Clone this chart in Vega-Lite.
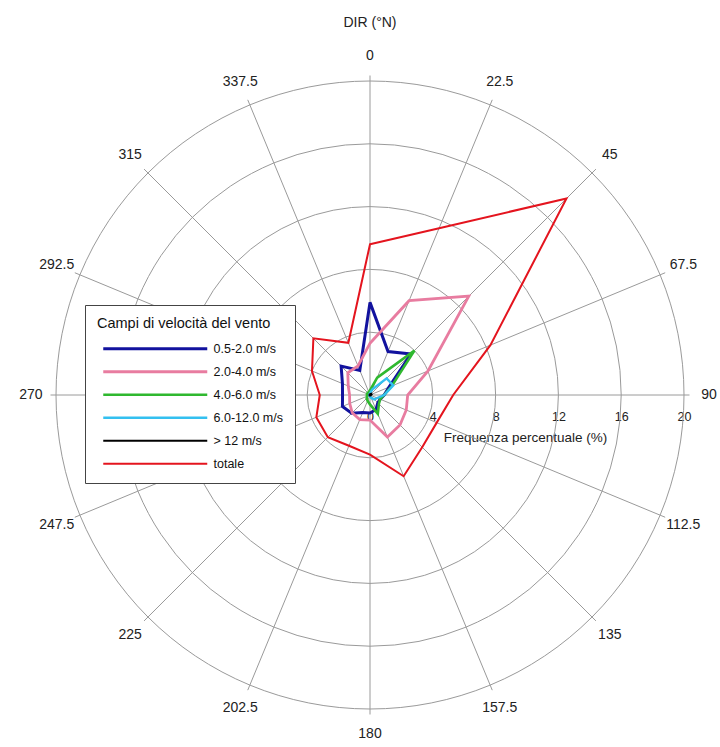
{
  "$schema": "https://vega.github.io/schema/vega-lite/v6.json",
  "width": 628,
  "height": 628,
  "autosize": {"type": "none"},
  "padding": {"left": 56, "top": 81, "right": 36, "bottom": 38},
  "background": "white",
  "config": {"view": {"stroke": null}, "font": "Liberation Sans"},
  "title": {"text": "DIR (°N)", "frame": "group", "anchor": "middle", "offset": 19, "fontSize": 14, "fontWeight": "normal", "color": "#222", "font": "Liberation Sans"},
  "datasets": {
    "rings": [{"r": 4}, {"r": 8}, {"r": 12}, {"r": 16}, {"r": 20}],
    "spokes": [
      {"d": 0, "lab": "0"}, {"d": 22.5, "lab": "22.5"}, {"d": 45, "lab": "45"}, {"d": 67.5, "lab": "67.5"},
      {"d": 90, "lab": "90"}, {"d": 112.5, "lab": "112.5"}, {"d": 135, "lab": "135"}, {"d": 157.5, "lab": "157.5"},
      {"d": 180, "lab": "180"}, {"d": 202.5, "lab": "202.5"}, {"d": 225, "lab": "225"}, {"d": 247.5, "lab": "247.5"},
      {"d": 270, "lab": "270"}, {"d": 292.5, "lab": "292.5"}, {"d": 315, "lab": "315"}, {"d": 337.5, "lab": "337.5"}
    ],
    "wind": [
      {"d": 0, "c": "0.5-2.0 m/s", "f": 5.9}, {"d": 22.5, "c": "0.5-2.0 m/s", "f": 3.0}, {"d": 45, "c": "0.5-2.0 m/s", "f": 3.7}, {"d": 67.5, "c": "0.5-2.0 m/s", "f": 1.3},
      {"d": 90, "c": "0.5-2.0 m/s", "f": 0.9}, {"d": 112.5, "c": "0.5-2.0 m/s", "f": 0.7}, {"d": 135, "c": "0.5-2.0 m/s", "f": 0.7}, {"d": 157.5, "c": "0.5-2.0 m/s", "f": 1.0},
      {"d": 180, "c": "0.5-2.0 m/s", "f": 1.15}, {"d": 202.5, "c": "0.5-2.0 m/s", "f": 1.2}, {"d": 225, "c": "0.5-2.0 m/s", "f": 1.65}, {"d": 247.5, "c": "0.5-2.0 m/s", "f": 1.9},
      {"d": 270, "c": "0.5-2.0 m/s", "f": 1.75}, {"d": 292.5, "c": "0.5-2.0 m/s", "f": 1.9}, {"d": 315, "c": "0.5-2.0 m/s", "f": 2.6}, {"d": 337.5, "c": "0.5-2.0 m/s", "f": 1.7},

      {"d": 0, "c": "2.0-4.0 m/s", "f": 3.3}, {"d": 22.5, "c": "2.0-4.0 m/s", "f": 6.5}, {"d": 45, "c": "2.0-4.0 m/s", "f": 8.9}, {"d": 67.5, "c": "2.0-4.0 m/s", "f": 4.0},
      {"d": 90, "c": "2.0-4.0 m/s", "f": 2.4}, {"d": 112.5, "c": "2.0-4.0 m/s", "f": 2.5}, {"d": 135, "c": "2.0-4.0 m/s", "f": 2.7}, {"d": 157.5, "c": "2.0-4.0 m/s", "f": 2.9},
      {"d": 180, "c": "2.0-4.0 m/s", "f": 1.6}, {"d": 202.5, "c": "2.0-4.0 m/s", "f": 1.7}, {"d": 225, "c": "2.0-4.0 m/s", "f": 1.6}, {"d": 247.5, "c": "2.0-4.0 m/s", "f": 1.4},
      {"d": 270, "c": "2.0-4.0 m/s", "f": 1.3}, {"d": 292.5, "c": "2.0-4.0 m/s", "f": 1.5}, {"d": 315, "c": "2.0-4.0 m/s", "f": 2.0}, {"d": 337.5, "c": "2.0-4.0 m/s", "f": 2.0},

      {"d": 0, "c": "4.0-6.0 m/s", "f": 0.3}, {"d": 22.5, "c": "4.0-6.0 m/s", "f": 1.2}, {"d": 45, "c": "4.0-6.0 m/s", "f": 4.0}, {"d": 67.5, "c": "4.0-6.0 m/s", "f": 1.5},
      {"d": 90, "c": "4.0-6.0 m/s", "f": 0.9}, {"d": 112.5, "c": "4.0-6.0 m/s", "f": 0.7}, {"d": 135, "c": "4.0-6.0 m/s", "f": 0.8}, {"d": 157.5, "c": "4.0-6.0 m/s", "f": 1.3},
      {"d": 180, "c": "4.0-6.0 m/s", "f": 0.6}, {"d": 202.5, "c": "4.0-6.0 m/s", "f": 0.4}, {"d": 225, "c": "4.0-6.0 m/s", "f": 0.3}, {"d": 247.5, "c": "4.0-6.0 m/s", "f": 0.2},
      {"d": 270, "c": "4.0-6.0 m/s", "f": 0.2}, {"d": 292.5, "c": "4.0-6.0 m/s", "f": 0.2}, {"d": 315, "c": "4.0-6.0 m/s", "f": 0.2}, {"d": 337.5, "c": "4.0-6.0 m/s", "f": 0.2},

      {"d": 0, "c": "6.0-12.0 m/s", "f": 0.1}, {"d": 22.5, "c": "6.0-12.0 m/s", "f": 0.4}, {"d": 45, "c": "6.0-12.0 m/s", "f": 1.5}, {"d": 67.5, "c": "6.0-12.0 m/s", "f": 1.6},
      {"d": 90, "c": "6.0-12.0 m/s", "f": 0.9}, {"d": 112.5, "c": "6.0-12.0 m/s", "f": 0.5}, {"d": 135, "c": "6.0-12.0 m/s", "f": 0.4}, {"d": 157.5, "c": "6.0-12.0 m/s", "f": 0.2},
      {"d": 180, "c": "6.0-12.0 m/s", "f": 0.1}, {"d": 202.5, "c": "6.0-12.0 m/s", "f": 0.05}, {"d": 225, "c": "6.0-12.0 m/s", "f": 0.05}, {"d": 247.5, "c": "6.0-12.0 m/s", "f": 0.05},
      {"d": 270, "c": "6.0-12.0 m/s", "f": 0.05}, {"d": 292.5, "c": "6.0-12.0 m/s", "f": 0.05}, {"d": 315, "c": "6.0-12.0 m/s", "f": 0.05}, {"d": 337.5, "c": "6.0-12.0 m/s", "f": 0.05},

      {"d": 0, "c": "> 12 m/s", "f": 0.03}, {"d": 22.5, "c": "> 12 m/s", "f": 0.05}, {"d": 45, "c": "> 12 m/s", "f": 0.1}, {"d": 67.5, "c": "> 12 m/s", "f": 0.1},
      {"d": 90, "c": "> 12 m/s", "f": 0.05}, {"d": 112.5, "c": "> 12 m/s", "f": 0.03}, {"d": 135, "c": "> 12 m/s", "f": 0.03}, {"d": 157.5, "c": "> 12 m/s", "f": 0.03},
      {"d": 180, "c": "> 12 m/s", "f": 0.03}, {"d": 202.5, "c": "> 12 m/s", "f": 0.03}, {"d": 225, "c": "> 12 m/s", "f": 0.03}, {"d": 247.5, "c": "> 12 m/s", "f": 0.03},
      {"d": 270, "c": "> 12 m/s", "f": 0.03}, {"d": 292.5, "c": "> 12 m/s", "f": 0.03}, {"d": 315, "c": "> 12 m/s", "f": 0.03}, {"d": 337.5, "c": "> 12 m/s", "f": 0.03},

      {"d": 0, "c": "totale", "f": 9.6}, {"d": 22.5, "c": "totale", "f": 11.5}, {"d": 45, "c": "totale", "f": 17.7}, {"d": 67.5, "c": "totale", "f": 8.3},
      {"d": 90, "c": "totale", "f": 5.3}, {"d": 112.5, "c": "totale", "f": 4.6}, {"d": 135, "c": "totale", "f": 4.7}, {"d": 157.5, "c": "totale", "f": 5.6},
      {"d": 180, "c": "totale", "f": 3.8}, {"d": 202.5, "c": "totale", "f": 3.5}, {"d": 225, "c": "totale", "f": 3.8}, {"d": 247.5, "c": "totale", "f": 3.7},
      {"d": 270, "c": "totale", "f": 3.2}, {"d": 292.5, "c": "totale", "f": 4.0}, {"d": 315, "c": "totale", "f": 5.1}, {"d": 337.5, "c": "totale", "f": 3.6}
    ]
  },
  "layer": [
    {
      "data": {"name": "rings"},
      "mark": {"type": "arc", "filled": false, "fill": null, "stroke": "#9a9a9a", "strokeWidth": 1, "theta": 0, "theta2": 6.2832},
      "encoding": {
        "radius": {"field": "r", "type": "quantitative", "stack": null, "scale": {"type": "linear", "domain": [0, 20], "range": [0, 314], "zero": true, "nice": false}}
      }
    },
    {
      "data": {"name": "spokes"},
      "transform": [
        {"calculate": "20.35*sin(datum.d*PI/180)", "as": "sx"},
        {"calculate": "20.35*cos(datum.d*PI/180)", "as": "sy"}
      ],
      "mark": {"type": "rule", "stroke": "#9a9a9a", "strokeWidth": 1},
      "encoding": {
        "x": {"field": "sx", "type": "quantitative", "scale": {"domain": [-20, 20], "nice": false, "zero": false},
          "axis": {"values": [0, 4, 8, 12, 16, 20], "offset": -314, "domain": false, "ticks": false, "grid": false, "labelPadding": 15, "labelFontSize": 12.5, "labelColor": "#222", "labelFont": "Liberation Sans", "labelFlush": false, "labelOverlap": false, "title": "Frequenza percentuale (%)", "titleFont": "Liberation Sans", "titleFontSize": 13.5, "titleFontWeight": "normal", "titleColor": "#222", "titleX": 469, "titleY": 42, "titleAlign": "center", "titleBaseline": "middle"}},
        "y": {"field": "sy", "type": "quantitative", "scale": {"domain": [-20, 20], "nice": false, "zero": false}, "axis": null},
        "x2": {"datum": 0},
        "y2": {"datum": 0}
      }
    },
    {
      "data": {"name": "wind"},
      "transform": [
        {"calculate": "datum.f*sin(datum.d*PI/180)", "as": "px"},
        {"calculate": "datum.f*cos(datum.d*PI/180)", "as": "py"}
      ],
      "mark": {"type": "line", "interpolate": "linear-closed", "strokeJoin": "miter"},
      "encoding": {
        "x": {"field": "px", "type": "quantitative", "scale": {"domain": [-20, 20], "nice": false, "zero": false},
          "axis": {"values": [0, 4, 8, 12, 16, 20], "offset": -314, "domain": false, "ticks": false, "grid": false, "labelPadding": 15, "labelFontSize": 12.5, "labelColor": "#222", "labelFont": "Liberation Sans", "labelFlush": false, "labelOverlap": false, "title": "Frequenza percentuale (%)", "titleFont": "Liberation Sans", "titleFontSize": 13.5, "titleFontWeight": "normal", "titleColor": "#222", "titleX": 469, "titleY": 42, "titleAlign": "center", "titleBaseline": "middle"}},
        "y": {"field": "py", "type": "quantitative", "scale": {"domain": [-20, 20], "nice": false, "zero": false}, "axis": null},
        "order": {"field": "d", "type": "quantitative"},
        "color": {"field": "c", "type": "nominal",
          "scale": {"domain": ["0.5-2.0 m/s", "2.0-4.0 m/s", "4.0-6.0 m/s", "6.0-12.0 m/s", "> 12 m/s", "totale"], "range": ["#12129e", "#e87ca0", "#2fb82f", "#33c0f0", "#000000", "#e4141e"]},
          "legend": {"title": "Campi di velocità del vento", "orient": "none", "legendX": 29, "legendY": 224, "symbolType": "M0,0H104", "symbolSize": 4, "symbolStrokeWidth": 3, "strokeColor": "#444444", "fillColor": "white", "padding": 12, "titleFont": "Liberation Sans", "titleFontSize": 14.5, "titleFontWeight": "normal", "titleColor": "#111", "titlePadding": 11, "labelFont": "Liberation Sans", "labelFontSize": 12.5, "labelColor": "#111", "labelOffset": 104, "rowPadding": 10, "labelLimit": 200}},
        "strokeWidth": {"field": "c", "type": "nominal", "scale": {"domain": ["0.5-2.0 m/s", "2.0-4.0 m/s", "4.0-6.0 m/s", "6.0-12.0 m/s", "> 12 m/s", "totale"], "range": [3, 2, 2.5, 3, 3, 3]}, "legend": null}
      }
    },
    {
      "data": {"name": "spokes"},
      "mark": {"type": "text", "fontSize": 14, "font": "Liberation Sans", "color": "#222", "align": "center", "baseline": "middle"},
      "encoding": {
        "theta": {"field": "d", "type": "quantitative", "scale": {"domain": [0, 360], "range": [0, 6.2832]}},
        "radius": {"datum": 21.6, "type": "quantitative", "scale": {"type": "linear", "domain": [0, 20], "range": [0, 314], "zero": true, "nice": false}},
        "text": {"field": "lab"}
      }
    }
  ]
}
